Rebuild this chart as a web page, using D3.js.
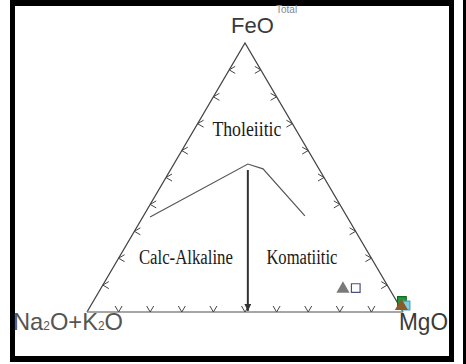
<!DOCTYPE html>
<html>
<head>
<meta charset="utf-8">
<script src="https://cdn.jsdelivr.net/npm/d3@7"></script>
<style>
  body { margin: 0; background: #fff; }
  svg { display: block; }
</style>
</head>
<body>
<svg id="chart"></svg>
<script>
// ternary values as [A = Na2O+K2O, F = FeO(total), M = MgO]
const tickValues = [10, 20, 30, 40, 50, 60, 70, 80, 90];
const boundaryCurve = [[62.4, 35.3, 2.3], [21.6, 55.0, 23.4], [17.7, 53.2, 29.1], [13.2, 35.7, 51.1]];
const trendArrow = [[22.7, 52.8, 24.5], [48.9, 0.4, 50.7]];
const fieldLabels = [
  { name: 'Tholeiitic', at: [16.5, 65.8, 17.7], len: 69 },
  { name: 'Calc-Alkaline', at: [59.6, 18.2, 22.2], len: 94 },
  { name: 'Komatiitic', at: [22.9, 18.2, 58.9], len: 71 }
];
const samples = [
  { shape: 'triangle', at: [14.7, 8.6, 76.7], fill: '#7a7a7a', stroke: 'none' },
  { shape: 'square', at: [10.5, 8.9, 80.6], fill: '#fff', stroke: '#4a5080' },
  { shape: 'square', at: [-1.7, 4.1, 97.6], fill: '#1f9a3a', stroke: '#0d6a22' },
  { shape: 'square', at: [-2.0, 2.4, 99.6], fill: '#7fd0e0', stroke: '#4aa0b8' },
  { shape: 'triangle', at: [-0.6, 2.2, 98.4], fill: '#8a5a2a', stroke: 'none' }
];

const width = 466, height = 364;
const svg = d3.select('#chart').attr('width', width).attr('height', height);

const x = d3.scaleLinear().domain([0, 100]).range([87, 403]);
const y = d3.scaleLinear().domain([0, 100]).range([312, 43]);
const px = d => x(d[2] + d[1] / 2);
const py = d => y(d[1]);

// frame
const frame = svg.append('g').attr('fill', '#000');
frame.append('rect').attr('x', 10).attr('y', 0).attr('width', 444).attr('height', 6);
frame.append('rect').attr('x', 10).attr('y', 0).attr('width', 5).attr('height', 362);
frame.append('rect').attr('x', 449).attr('y', 0).attr('width', 5).attr('height', 362);
frame.append('rect').attr('x', 10).attr('y', 356).attr('width', 444).attr('height', 6);
frame.append('rect').attr('x', 463).attr('y', 0).attr('width', 3).attr('height', 364);

// triangle edges
const corners = [[100, 0, 0], [0, 100, 0], [0, 0, 100]];
const edge = d3.line().x(px).y(py);
svg.append('path')
  .attr('fill', 'none').attr('stroke', '#444').attr('stroke-width', 1.3)
  .attr('d', edge([corners[0], corners[1], corners[2]]));
svg.append('path')
  .attr('fill', 'none').attr('stroke', '#888').attr('stroke-width', 1.3)
  .attr('d', edge([corners[0], corners[2]]));

// chevron ticks
const ticks = svg.append('g').attr('fill', 'none').attr('stroke', '#444').attr('stroke-width', 1);
const chevron = (cx, cy, dx1, dy1, dx2, dy2) =>
  `M${cx + dx1},${cy + dy1}L${cx},${cy}L${cx + dx2},${cy + dy2}`;
ticks.selectAll('.tb').data(tickValues).join('path')
  .attr('d', t => { const d = [100 - t, 0, t]; return chevron(px(d), py(d), -3.5, -6, 3.5, -6); });
ticks.selectAll('.tl').data(tickValues).join('path')
  .attr('d', t => { const d = [100 - t, t, 0]; return chevron(px(d), py(d), 6, -3.5, 6, 3.5); });
ticks.selectAll('.tr').data(tickValues).join('path')
  .attr('d', t => { const d = [0, t, 100 - t]; return chevron(px(d), py(d), -6, -3.5, -6, 3.5); });

// boundary and trend
svg.append('path')
  .attr('fill', 'none').attr('stroke', '#555').attr('stroke-width', 1.2)
  .attr('d', edge(boundaryCurve));

svg.append('defs').append('marker')
  .attr('id', 'head')
  .attr('viewBox', '0 0 10 10')
  .attr('refX', 10).attr('refY', 5)
  .attr('markerWidth', 3.5).attr('markerHeight', 3.5)
  .attr('orient', 'auto')
  .append('path').attr('d', 'M0,0L10,5L0,10Z').attr('fill', '#333');

svg.append('path')
  .attr('fill', 'none').attr('stroke', '#333').attr('stroke-width', 2)
  .attr('marker-end', 'url(#head)')
  .attr('d', edge(trendArrow));

// field names
svg.append('g')
  .attr('font-family', '"Liberation Serif", "Times New Roman", serif')
  .attr('font-size', 20)
  .attr('fill', '#1a1a1a')
  .attr('text-anchor', 'middle')
  .selectAll('text').data(fieldLabels).join('text')
  .attr('x', d => px(d.at))
  .attr('y', d => py(d.at) + 1)
  .attr('textLength', d => d.len)
  .attr('lengthAdjust', 'spacingAndGlyphs')
  .text(d => d.name);

// samples
const sym = d3.symbol().size(75);
svg.append('g').selectAll('path').data(samples).join('path')
  .attr('transform', d => `translate(${px(d.at)},${py(d.at)})`)
  .attr('d', d => sym.type(d.shape === 'square' ? d3.symbolSquare : d3.symbolTriangle)())
  .attr('fill', d => d.fill)
  .attr('stroke', d => d.stroke)
  .attr('stroke-width', 1.2);

// corner labels
const lab = svg.append('g')
  .attr('font-family', '"Liberation Sans", Arial, sans-serif')
  .attr('fill', '#3a3a3a');

lab.append('text').attr('x', 231).attr('y', 33).attr('font-size', 22).text('FeO');
lab.append('text').attr('x', 276).attr('y', 13).attr('font-size', 10).attr('fill', '#888').text('Total');

const alk = lab.append('text').attr('x', 13).attr('y', 330).attr('font-size', 24).attr('fill', '#555')
  .attr('textLength', 110).attr('lengthAdjust', 'spacingAndGlyphs');
alk.append('tspan').text('Na');
alk.append('tspan').attr('font-size', 12).text('2');
alk.append('tspan').text('O+K');
alk.append('tspan').attr('font-size', 12).text('2');
alk.append('tspan').text('O');

lab.append('text').attr('x', 399).attr('y', 330).attr('font-size', 24)
  .attr('textLength', 49).attr('lengthAdjust', 'spacingAndGlyphs').text('MgO');
</script>
</body>
</html>
